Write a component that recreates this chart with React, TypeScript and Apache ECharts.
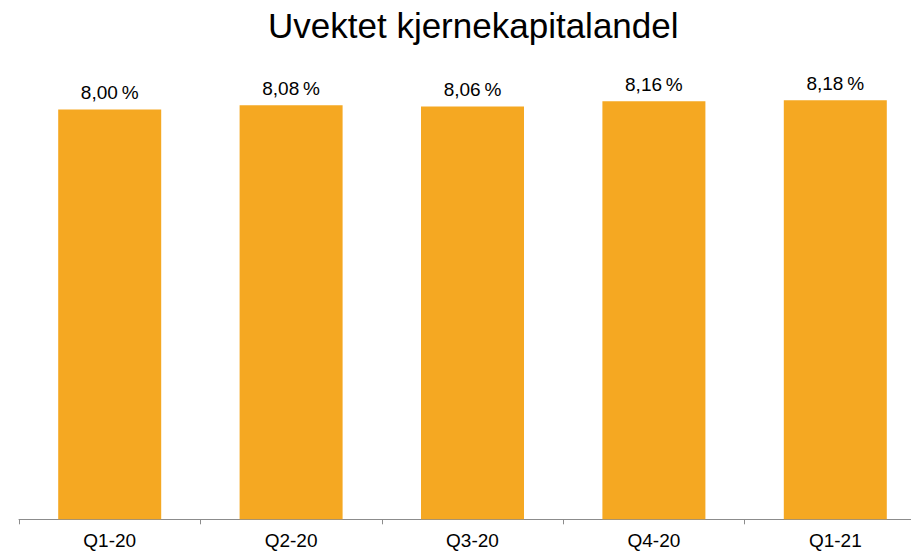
import React, { useEffect, useRef } from "react";
import * as echarts from "echarts";

const categories = ["Q1-20", "Q2-20", "Q3-20", "Q4-20", "Q1-21"];
const values = [8.0, 8.08, 8.06, 8.16, 8.18];
const titleText = "Uvektet kjernekapitalandel";

const FONT = "'Liberation Sans', Arial, sans-serif";

export default function App() {
  const ref = useRef<HTMLDivElement>(null);
  useEffect(() => {
    if (!ref.current) return;
    const chart = echarts.init(ref.current, null, { renderer: "svg" });
    chart.setOption({
      animation: false,
      title: {
        text: titleText,
        left: 263,
        top: 3,
        textStyle: { fontFamily: FONT, fontSize: 35, fontWeight: "normal", color: "#000" },
      },
      grid: {
        left: 19,
        width: 907,
        top: 7,
        bottom: 32.7,
        containLabel: false,
        outerBoundsMode: "none",
      },
      xAxis: {
        type: "category",
        data: categories,
        axisLine: { show: true, lineStyle: { color: "#8c8c8c", width: 1 } },
        axisTick: { show: true, length: 5, lineStyle: { color: "#8c8c8c" }, alignWithLabel: false },
        axisLabel: { fontFamily: FONT, fontSize: 19, color: "#000", margin: 12 },
      },
      yAxis: { type: "value", min: 0, max: 10, show: false, splitLine: { show: false } },
      series: [
        {
          type: "bar",
          data: values,
          barWidth: 103,
          itemStyle: { color: "#F5A822" },
          label: {
            show: true,
            position: "top",
            distance: 7,
            fontFamily: FONT,
            fontSize: 19,
            color: "#000",
            formatter: (p: any) => p.value.toFixed(2).replace(".", ",") + "\u2009%",
          },
        },
      ],
    });
    return () => chart.dispose();
  }, []);
  return (
    <div
      ref={ref}
      style={{ position: "absolute", left: 0, top: 0, width: 911, height: 552, overflow: "hidden" }}
    />
  );
}
